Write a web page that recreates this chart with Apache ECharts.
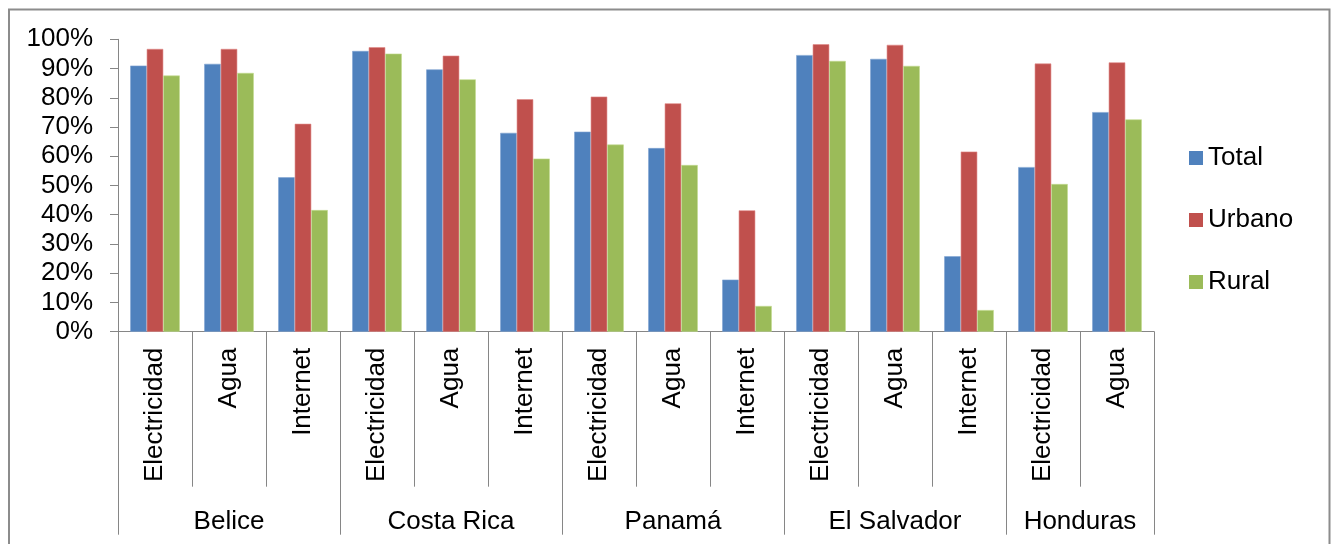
<!DOCTYPE html>
<html>
<head>
<meta charset="utf-8">
<script src="https://cdn.jsdelivr.net/npm/echarts@6/dist/echarts.min.js"></script>
<style>html,body{margin:0;padding:0;background:#fff}#c{width:1335px;height:544px}</style>
</head>
<body>
<div id="c"></div>
<script>
const categories = ['Electricidad','Agua','Internet','Electricidad','Agua','Internet','Electricidad','Agua','Internet','Electricidad','Agua','Internet','Electricidad','Agua'];
const groups = ['Belice','Costa Rica','Panamá','El Salvador','Honduras'];
const groupSizes = [3,3,3,3,2];
const total  = [91.0, 91.6, 52.8, 96.0, 89.7, 68.0, 68.4, 62.8, 17.8, 94.6, 93.3, 25.8, 56.3, 75.1];
const urbano = [96.7, 96.7, 71.1, 97.3, 94.4, 79.5, 80.4, 78.1, 41.5, 98.3, 98.1, 61.6, 91.7, 92.1];
const rural  = [87.6, 88.5, 41.6, 95.1, 86.3, 59.2, 64.0, 57.0,  8.8, 92.6, 90.9,  7.4, 50.5, 72.6];
const yTicks = [0,10,20,30,40,50,60,70,80,90,100];

const font = '"Liberation Sans", Arial, sans-serif';
const axisGray = '#868686';
const fs = 26;

// group boundaries and centers on a 0..N scale
const bounds = [0];
groupSizes.forEach(s => bounds.push(bounds[bounds.length-1] + s));
const centers = groupSizes.map((s,i) => bounds[i] + s/2);

const chart = echarts.init(document.getElementById('c'), null, {renderer:'canvas'});
chart.setOption({
  animation: false,
  backgroundColor: '#fff',
  textStyle: {fontFamily: font},
  graphic: [{
    type: 'rect', silent: true,
    shape: {x: 9, y: 9.5, width: 1320.5, height: 600},
    style: {fill: 'none', stroke: '#8c8c8c', lineWidth: 2}
  }],
  grid: {left: 118, right: 181, top: 39.3, bottom: 212.3, containLabel: false},
  legend: {
    orient: 'vertical', left: 1189, top: 145, padding: 0,
    itemWidth: 14, itemHeight: 14, itemGap: 36,
    icon: 'rect',
    itemStyle: {borderWidth: 0},
    textStyle: {fontSize: fs, color: '#000', fontFamily: font, lineHeight: 26},
    data: ['Total','Urbano','Rural']
  },
  xAxis: [{
    type: 'category', data: categories, position: 'bottom',
    axisLine: {show: true, lineStyle: {color: axisGray, width: 1}},
    axisTick: {show: true, interval: 0, length: 155, lineStyle: {color: axisGray, width: 1}},
    axisLabel: {interval: 0, rotate: 90, margin: 16, fontSize: fs, color: '#000', fontFamily: font},
    splitLine: {show: false}
  }, {
    type: 'value', min: 0, max: categories.length, position: 'bottom', offset: 0,
    axisLine: {show: false},
    axisTick: {show: true, customValues: bounds, length: 203, lineStyle: {color: axisGray, width: 1}},
    axisLabel: {
      customValues: centers, margin: 177, fontSize: fs, color: '#000', fontFamily: font,
      formatter: v => { const i = centers.indexOf(v); return i >= 0 ? groups[i] : ''; }
    },
    splitLine: {show: false}
  }],
  yAxis: {
    type: 'value', min: 0, max: 100, interval: 10,
    axisLine: {show: true, lineStyle: {color: axisGray, width: 1}},
    axisTick: {show: true, length: 8, lineStyle: {color: axisGray, width: 1}},
    axisLabel: {margin: 25, fontSize: fs, color: '#000', fontFamily: font,
      formatter: v => yTicks.includes(v) ? v + '%' : ''},
    splitLine: {show: false}
  },
  series: [
    {name: 'Total', type: 'bar', data: total, barGap: '0%', barCategoryGap: '33%',
     itemStyle: {color: '#4F81BD', borderColor: '#7fa3d1', borderWidth: 0.6}},
    {name: 'Urbano', type: 'bar', data: urbano, barGap: '0%', barCategoryGap: '33%',
     itemStyle: {color: '#C0504D', borderColor: '#e08a88', borderWidth: 0.6}},
    {name: 'Rural', type: 'bar', data: rural, barGap: '0%', barCategoryGap: '33%',
     itemStyle: {color: '#9BBB59', borderColor: '#c3dc8e', borderWidth: 0.6}}
  ]
});
</script>
</body>
</html>
